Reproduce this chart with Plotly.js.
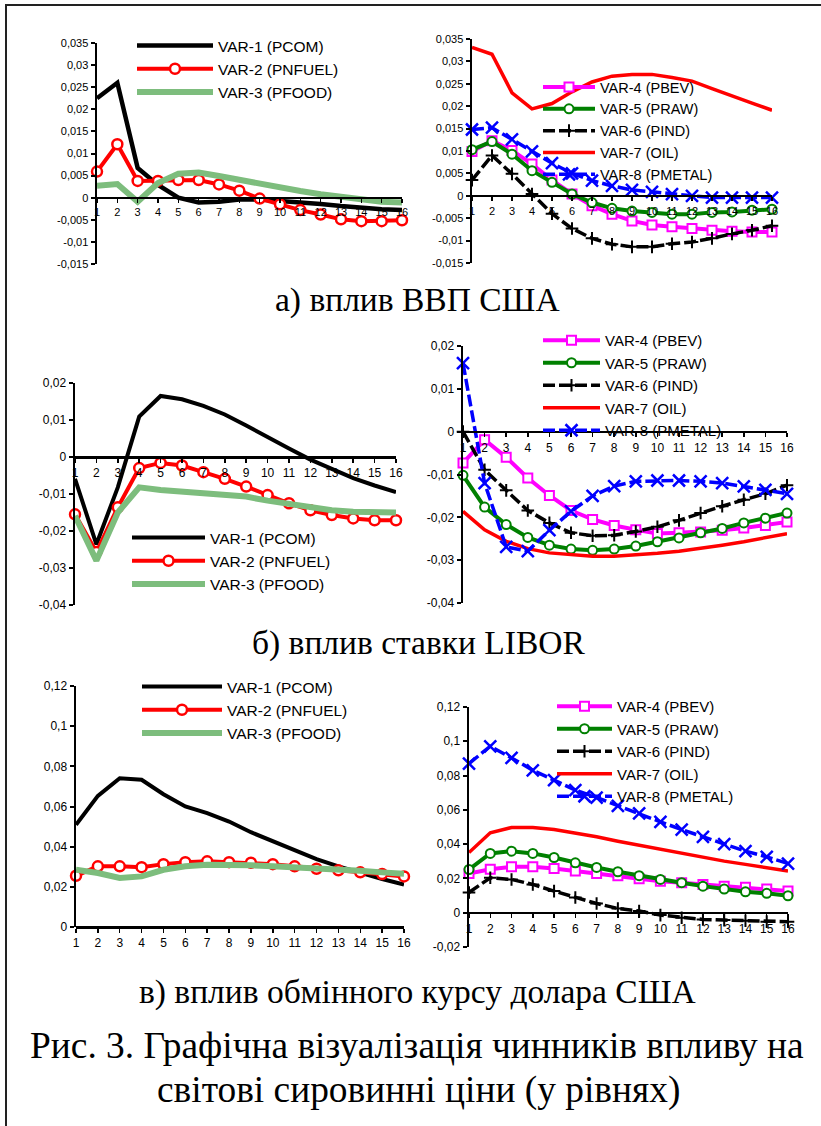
<!DOCTYPE html>
<html><head><meta charset="utf-8">
<script src="https://cdn.plot.ly/plotly-3.0.1.min.js"></script>
<style>html,body{margin:0;padding:0;background:#fff;}#chart{width:821px;height:1126px;}</style>
</head><body><div id="chart"></div>
<script>
// ---------- DATA ----------
const periods = [1,2,3,4,5,6,7,8,9,10,11,12,13,14,15,16];
const xTickLabels = ['1','2','3','4','5','6','7','8','9','10','11','12','13','14','15','16'];
const seriesNames = ['VAR-1 (PCOM)','VAR-2 (PNFUEL)','VAR-3 (PFOOD)','VAR-4 (PBEV)','VAR-5 (PRAW)','VAR-6 (PIND)','VAR-7 (OIL)','VAR-8 (PMETAL)'];

// а) вплив ВВП США
const gdp_PCOM   = [0.0225,0.026,0.0067,0.0029,0.0,-0.0011,-0.0009,-0.0004,-0.0004,-0.0007,-0.0011,-0.0014,-0.0019,-0.0023,-0.0026,-0.0028];
const gdp_PNFUEL = [0.0059,0.0121,0.0038,0.0038,0.004,0.004,0.003,0.0016,-0.0002,-0.0015,-0.0028,-0.0038,-0.0049,-0.0053,-0.0053,-0.0051];
const gdp_PFOOD  = [0.0027,0.0031,-0.0009,0.0033,0.0054,0.0057,0.0049,0.004,0.0033,0.0025,0.0015,0.0008,0.0002,-0.0004,-0.0009,-0.0011];
const gdp_PBEV   = [0.0099,0.0123,0.0101,0.0071,0.0035,0.0004,-0.0022,-0.0041,-0.0056,-0.0065,-0.0069,-0.0073,-0.0077,-0.0079,-0.0081,-0.0081];
const gdp_PRAW   = [0.0103,0.0121,0.0093,0.0056,0.003,0.0004,-0.0015,-0.0028,-0.0034,-0.0037,-0.0041,-0.0041,-0.0037,-0.0036,-0.0032,-0.003];
const gdp_PIND   = [0.0035,0.009,0.0049,0.0004,-0.004,-0.0073,-0.0095,-0.0108,-0.0114,-0.0114,-0.0107,-0.0103,-0.0095,-0.0085,-0.0077,-0.0067];
const gdp_OIL    = [0.0331,0.0316,0.023,0.0194,0.0206,0.0232,0.0254,0.0267,0.0271,0.0271,0.0264,0.0256,0.0239,0.0224,0.0207,0.0191];
const gdp_PMETAL = [0.0148,0.0152,0.0126,0.0099,0.0073,0.005,0.0034,0.0022,0.0013,0.0009,0.0004,0.0,-0.0004,-0.0004,-0.0004,-0.0004];

// б) вплив ставки LIBOR
const libor_PCOM   = [-0.0059,-0.0236,-0.0082,0.0109,0.0165,0.0156,0.0138,0.0115,0.0085,0.0053,0.0023,-0.0007,-0.0032,-0.0057,-0.0077,-0.0095];
const libor_PNFUEL = [-0.0155,-0.0257,-0.0136,-0.003,-0.0016,-0.0023,-0.0041,-0.0059,-0.008,-0.0103,-0.0125,-0.0144,-0.0157,-0.0166,-0.0171,-0.0171];
const libor_PFOOD  = [-0.0159,-0.028,-0.015,-0.0082,-0.0089,-0.0094,-0.0096,-0.01,-0.0107,-0.0118,-0.0127,-0.0136,-0.0144,-0.0148,-0.015,-0.015];
const libor_PBEV   = [-0.0073,-0.0019,-0.006,-0.0108,-0.0149,-0.0184,-0.0205,-0.0219,-0.0229,-0.0238,-0.0236,-0.0234,-0.023,-0.0225,-0.0219,-0.0211];
const libor_PRAW   = [-0.0102,-0.0176,-0.0217,-0.0247,-0.0265,-0.0274,-0.0277,-0.0274,-0.0267,-0.0257,-0.0248,-0.0236,-0.0226,-0.0213,-0.0202,-0.019];
const libor_PIND   = [0.0,-0.0089,-0.0137,-0.0184,-0.0213,-0.0236,-0.0243,-0.0242,-0.0233,-0.0222,-0.0207,-0.019,-0.0174,-0.0159,-0.0145,-0.0125];
const libor_OIL    = [-0.0186,-0.0229,-0.0256,-0.0273,-0.0283,-0.0288,-0.0291,-0.0291,-0.0288,-0.0284,-0.0279,-0.0273,-0.0265,-0.0257,-0.0247,-0.0238];
const libor_PMETAL = [0.016,-0.012,-0.0269,-0.0279,-0.023,-0.0186,-0.015,-0.0127,-0.0116,-0.0114,-0.0114,-0.0116,-0.012,-0.0128,-0.0136,-0.0145];

// в) вплив обмінного курсу долара США
const usd_PCOM   = [0.0509,0.0653,0.0741,0.0733,0.0661,0.06,0.0567,0.0525,0.0472,0.0426,0.0385,0.0338,0.0302,0.0269,0.0239,0.0211];
const usd_PNFUEL = [0.0255,0.0302,0.0302,0.0298,0.0313,0.0323,0.0327,0.0323,0.032,0.0313,0.0302,0.029,0.0282,0.0272,0.0264,0.0252];
const usd_PFOOD  = [0.0285,0.0269,0.0244,0.0252,0.0285,0.0302,0.031,0.031,0.0307,0.0302,0.0298,0.0293,0.0285,0.028,0.0272,0.0265];
const usd_PBEV   = [0.0229,0.0254,0.0268,0.0268,0.0258,0.0243,0.0229,0.0216,0.0198,0.0184,0.0175,0.0165,0.0155,0.0148,0.0138,0.0126];
const usd_PRAW   = [0.0252,0.0346,0.0359,0.0346,0.0322,0.0291,0.0264,0.0239,0.0216,0.0194,0.0175,0.0155,0.0138,0.0122,0.0113,0.0099];
const usd_PIND   = [0.0118,0.0204,0.0194,0.0165,0.0126,0.0089,0.0054,0.0025,0.001,-0.0014,-0.0029,-0.0039,-0.0043,-0.0047,-0.0052,-0.0052];
const usd_OIL    = [0.0351,0.0466,0.0497,0.0497,0.0485,0.0466,0.0443,0.0417,0.0394,0.0371,0.0346,0.0322,0.0301,0.0282,0.0262,0.0243];
const usd_PMETAL = [0.087,0.0971,0.0903,0.0831,0.0773,0.0715,0.0672,0.0623,0.0579,0.053,0.0485,0.0443,0.04,0.0359,0.0326,0.0287];

const yTicksSmall = [-0.015,-0.01,-0.005,0,0.005,0.01,0.015,0.02,0.025,0.03,0.035];
const yTicksLibor = [-0.04,-0.03,-0.02,-0.01,0,0.01,0.02];
const yTicksUsdL  = [0,0.02,0.04,0.06,0.08,0.1,0.12];
const yTicksUsdR  = [-0.02,0,0.02,0.04,0.06,0.08,0.1,0.12];

const captionA = 'а) вплив ВВП США';
const captionB = 'б) вплив ставки LIBOR';
const captionC = 'в) вплив обмінного курсу долара США';
const figCaption1 = 'Рис. 3. Графічна візуалізація чинників впливу на';
const figCaption2 = 'світові сировинні ціни (у рівнях)';

// ---------- LAYOUT HELPERS ----------
const W = 821, H = 1126;
const px = p => p / W;
const py = p => 1 - p / H;
const fmt = v => v === 0 ? '0' : String(v).replace('.', ',');
const SANS = 'Arial, "Liberation Sans", sans-serif';
const SERIF = '"Times New Roman", "Liberation Serif", serif';

// panel geometry in pixels: [xLeft, xRight, yTop, yBottom]
const panels = [
  {box:[97,402,43,264],  range:[-0.015,0.035], ticks:yTicksSmall, fs:11, leg:{x:132,y:29,iw:76,fs:15.5,gap:0.5}},
  {box:[472,772,39,263], range:[-0.015,0.035], ticks:yTicksSmall, fs:11, leg:{x:538,y:71,iw:52,fs:14.5,gap:0}},
  {box:[75,396,383,605], range:[-0.04,0.02],   ticks:yTicksLibor, fs:12, leg:{x:127,y:521,iw:73,fs:15.5,gap:1.5}},
  {box:[463,787,346,603],range:[-0.04,0.02],   ticks:yTicksLibor, fs:12, leg:{x:538,y:324,iw:57,fs:15,gap:0}},
  {box:[76,404,686,927], range:[0,0.12],       ticks:yTicksUsdL,  fs:12, leg:{x:137,y:670,iw:80,fs:15.5,gap:3}},
  {box:[469,788,707,947],range:[-0.02,0.12],   ticks:yTicksUsdR,  fs:12, leg:{x:552,y:690,iw:55,fs:15,gap:0}}
];

const styles = {
  PCOM:   {line:{color:'#000000',width:4.5}, mode:'lines'},
  PNFUEL: {line:{color:'#ff0000',width:4}, mode:'lines+markers', marker:{symbol:'circle',size:10,color:'#ffffff',line:{color:'#ff0000',width:2.5}}},
  PFOOD:  {line:{color:'#7dbd7d',width:6}, mode:'lines'},
  PBEV:   {line:{color:'#ff00ff',width:4}, mode:'lines+markers', marker:{symbol:'square',size:9,color:'#ffffff',line:{color:'#ff00ff',width:2}}},
  PRAW:   {line:{color:'#008000',width:4}, mode:'lines+markers', marker:{symbol:'circle',size:9,color:'#ffffff',line:{color:'#008000',width:2}}},
  PIND:   {line:{color:'#000000',width:3.5,dash:'12px,4px'}, mode:'lines+markers', marker:{symbol:'cross-thin',size:9,color:'#000000',line:{color:'#000000',width:2}}},
  OIL:    {line:{color:'#ff0000',width:3.5}, mode:'lines'},
  PMETAL: {line:{color:'#0000ff',width:3.5,dash:'12px,4px'}, mode:'lines+markers', marker:{symbol:'x-thin',size:12,color:'#0000ff',line:{color:'#0000ff',width:2.5}}}
};

const panelSeries = [
  [['PCOM',gdp_PCOM,0],['PNFUEL',gdp_PNFUEL,1],['PFOOD',gdp_PFOOD,2]],
  [['PBEV',gdp_PBEV,3],['PRAW',gdp_PRAW,4],['PIND',gdp_PIND,5],['OIL',gdp_OIL,6],['PMETAL',gdp_PMETAL,7]],
  [['PCOM',libor_PCOM,0],['PNFUEL',libor_PNFUEL,1],['PFOOD',libor_PFOOD,2]],
  [['PBEV',libor_PBEV,3],['PRAW',libor_PRAW,4],['PIND',libor_PIND,5],['OIL',libor_OIL,6],['PMETAL',libor_PMETAL,7]],
  [['PCOM',usd_PCOM,0],['PNFUEL',usd_PNFUEL,1],['PFOOD',usd_PFOOD,2]],
  [['PBEV',usd_PBEV,3],['PRAW',usd_PRAW,4],['PIND',usd_PIND,5],['OIL',usd_OIL,6],['PMETAL',usd_PMETAL,7]]
];

const traces = [];
const layout = {
  width: W, height: H,
  margin: {l:0,r:0,t:0,b:0},
  paper_bgcolor:'#ffffff', plot_bgcolor:'rgba(0,0,0,0)',
  showlegend: true,
  annotations: [], shapes: []
};

panels.forEach((p, i) => {
  const n = i + 1;
  const suf = n === 1 ? '' : String(n);
  const xa = 'xaxis' + suf, ya = 'yaxis' + suf;
  const xr = 'x' + suf, yr = 'y' + suf;
  const lg = 'legend' + suf;
  const [xl, xrt, yt, yb] = p.box;
  const yDom = [py(yb), py(yt)];
  const zeroFrac = (0 - p.range[0]) / (p.range[1] - p.range[0]);
  const zeroPos = yDom[0] + zeroFrac * (yDom[1] - yDom[0]);
  layout[xa] = {
    domain:[px(xl), px(xrt)], range:[1,16], anchor:'free', position: zeroPos,
    showline:true, linecolor:'#000', linewidth:2.5, showgrid:false, zeroline:false,
    ticks:'outside', ticklen:4, tickwidth:1.5, tickcolor:'#000',
    tickvals: periods, ticktext: xTickLabels,
    tickfont:{family:SANS,size:p.fs,color:'#000'}, fixedrange:true
  };
  layout[ya] = {
    domain: yDom, range: p.range, anchor: xr,
    showline:true, linecolor:'#000', linewidth:2.5, showgrid:false, zeroline:false,
    ticks:'outside', ticklen:4, tickwidth:2, tickcolor:'#000',
    tickvals: p.ticks, ticktext: p.ticks.map(fmt),
    tickfont:{family:SANS,size:p.fs,color:'#000'}, fixedrange:true
  };
  layout[lg] = {
    x: px(p.leg.x), y: py(p.leg.y), xanchor:'left', yanchor:'top',
    bgcolor:'rgba(0,0,0,0)', borderwidth:0,
    font:{family:SANS,size:p.leg.fs,color:'#000'},
    itemwidth: p.leg.iw, tracegroupgap: p.leg.gap, traceorder:'normal'
  };
  panelSeries[i].forEach(([key, vals, nameIdx]) => {
    const s = styles[key];
    const lineW = (key === 'PCOM' && i > 0) ? 4 : s.line.width;
    const tr = {
      type:'scatter', x: periods, y: vals, name: seriesNames[nameIdx],
      xaxis: xr, yaxis: yr, legend: lg, legendgroup: 'g' + n + key,
      mode: s.mode, line: Object.assign({}, s.line, {width: lineW}),
      cliponaxis:false, hoverinfo:'skip'
    };
    if (s.marker) tr.marker = s.marker;
    traces.push(tr);
  });
});

const cap = (text, xpx, ypx, size) => ({
  text, xref:'paper', yref:'paper', x: px(xpx), y: py(ypx),
  xanchor:'center', yanchor:'middle', showarrow:false,
  font:{family:SERIF,size,color:'#000'}
});
layout.annotations.push(cap(captionA, 417, 300, 33.5));
layout.annotations.push(cap(captionB, 418, 643, 33.5));
layout.annotations.push(cap(captionC, 417, 992, 33.5));
layout.annotations.push(cap(figCaption1, 417, 1045, 37.4));
layout.annotations.push(cap(figCaption2, 418, 1090, 37.4));

layout.shapes.push({type:'rect', xref:'paper', yref:'paper', x0: px(6), x1: 1.05, y0: -0.05, y1: py(5),
  line:{color:'#222', width:2}, fillcolor:'rgba(0,0,0,0)', layer:'below'});

Plotly.newPlot('chart', traces, layout, {staticPlot:true, displayModeBar:false});
</script>
</body></html>
